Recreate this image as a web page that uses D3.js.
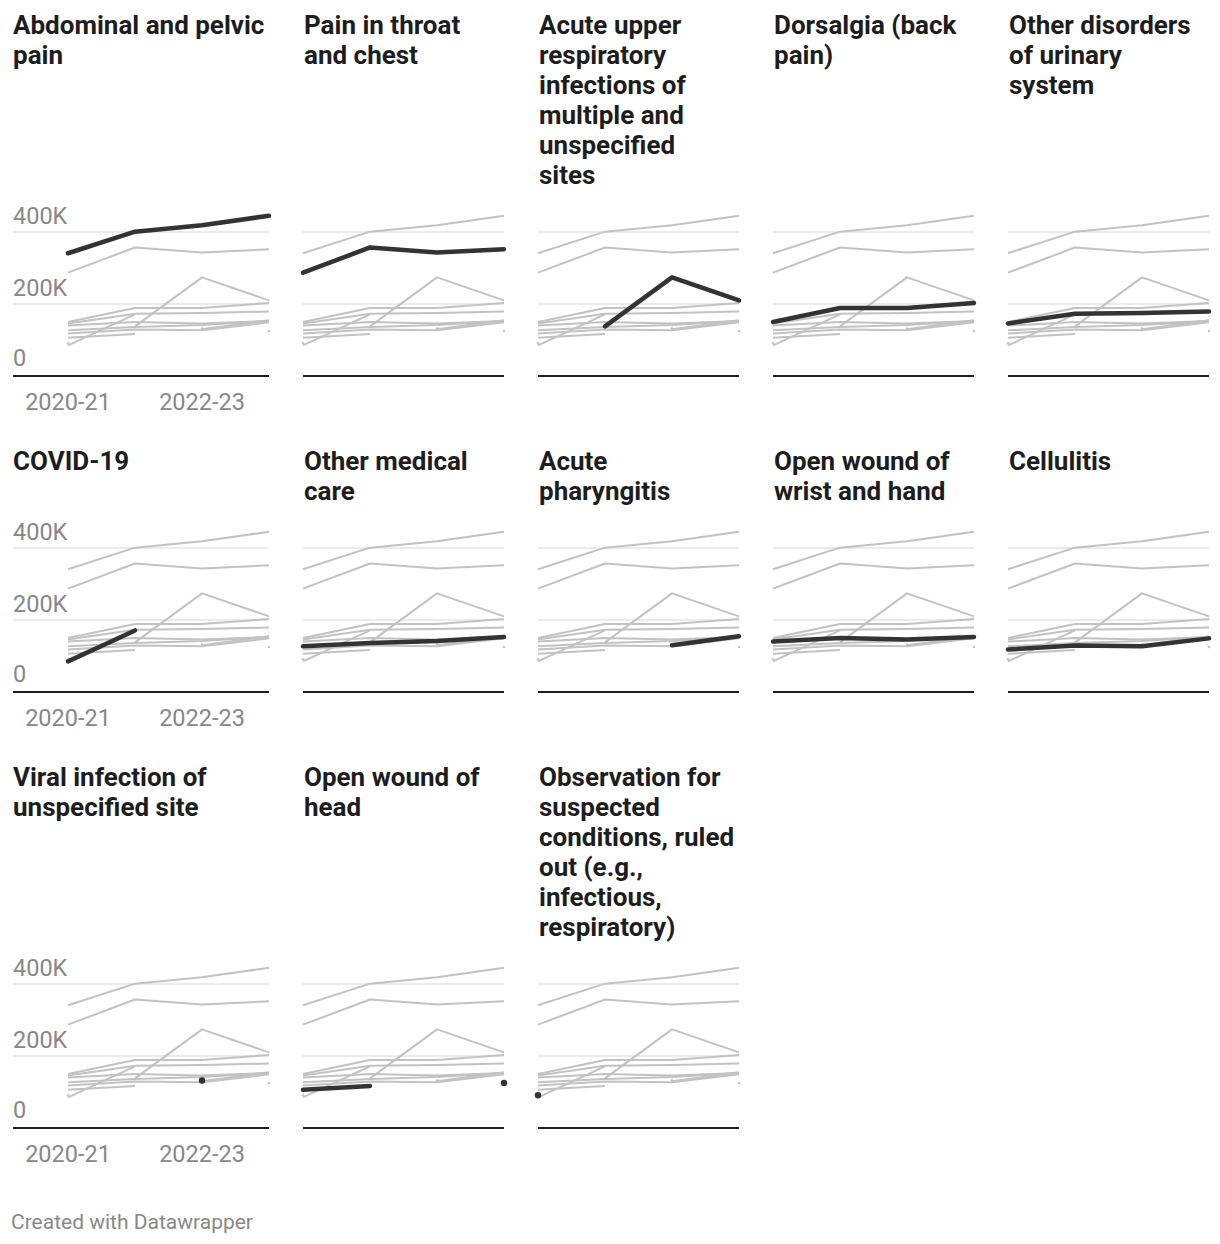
<!DOCTYPE html>
<html><head><meta charset="utf-8">
<script src="https://cdn.jsdelivr.net/npm/d3@7"></script>
<style>
body{margin:0;background:#fff;}
svg{display:block;font-family:Roboto,"Noto Sans",sans-serif;}
</style>
</head><body>
<svg id="c" width="1220" height="1244"></svg>
<script>
// ---- DATA (values in thousands of visits) ----
const years = ["2020-21", "2021-22", "2022-23", "2023-24"];
const xTickLabels = ["2020-21", "2022-23"];
const yTickValues = [0, 200, 400];
const yTickLabels = ["0", "200K", "400K"];

const categories = [
  "Abdominal and pelvic pain",
  "Pain in throat and chest",
  "Acute upper respiratory infections of multiple and unspecified sites",
  "Dorsalgia (back pain)",
  "Other disorders of urinary system",
  "COVID-19",
  "Other medical care",
  "Acute pharyngitis",
  "Open wound of wrist and hand",
  "Cellulitis",
  "Viral infection of unspecified site",
  "Open wound of head",
  "Observation for suspected conditions, ruled out (e.g., infectious, respiratory)"
];
const titleLines = [
  ["Abdominal and pelvic", "pain"],
  ["Pain in throat", "and chest"],
  ["Acute upper", "respiratory", "infections of", "multiple and", "unspecified", "sites"],
  ["Dorsalgia (back", "pain)"],
  ["Other disorders", "of urinary", "system"],
  ["COVID-19"],
  ["Other medical", "care"],
  ["Acute", "pharyngitis"],
  ["Open wound of", "wrist and hand"],
  ["Cellulitis"],
  ["Viral infection of", "unspecified site"],
  ["Open wound of", "head"],
  ["Observation for", "suspected", "conditions, ruled", "out (e.g.,", "infectious,", "respiratory)"]
];

const abdominalPelvicPain   = [341, 401, 419, 445];
const painThroatChest       = [287, 357, 343, 352];
const acuteUpperRespiratory = [null, 138, 274, 210];
const dorsalgia             = [150, 189, 189, 203];
const urinaryDisorders      = [146, 173, 175, 179];
const covid19               = [85, 171, null, null];
const otherMedicalCare      = [127, 136, 142, 153];
const acutePharyngitis      = [null, null, 130, 155];
const openWoundWristHand    = [140, 150, 146, 153];
const cellulitis            = [118, 129, 127, 149];
const viralInfection        = [null, null, 132, null];
const openWoundHead         = [106, 117, null, 125];
const observationRuledOut   = [91, null, null, null];

const seriesValues = [
  abdominalPelvicPain, painThroatChest, acuteUpperRespiratory, dorsalgia,
  urinaryDisorders, covid19, otherMedicalCare, acutePharyngitis,
  openWoundWristHand, cellulitis, viralInfection, openWoundHead, observationRuledOut
];

// ---- LAYOUT ----
const svg = d3.select("#c");
const nCols = 5;
const colStep = 235, dataLeft0 = 68, panelW = 201, col0Left = 13;
const lineH = 30, titleToTop = 39, plotH = 162, baseToNextTitle = 85;
const titleSize = 26, axisSize = 23.5;

const x = d3.scalePoint().domain(years).range([0, panelW]);
const y = d3.scaleLinear().domain([0, 450]).range([plotH, 0]);

const line = d3.line()
  .defined(d => d.v != null)
  .x(d => x(d.year))
  .y(d => y(d.v));

const toPts = vals => years.map((yr, i) => ({year: yr, v: vals[i]}));
const isolated = vals => years.map((yr, i) => ({year: yr, v: vals[i], i}))
  .filter(d => d.v != null && (d.i === 0 || vals[d.i-1] == null) && (d.i === years.length-1 || vals[d.i+1] == null));

let T = 25;
const nRows = Math.ceil(categories.length / nCols);
for (let r = 0; r < nRows; r++) {
  const idx = d3.range(r*nCols, Math.min(r*nCols + nCols, categories.length));
  const n = d3.max(idx, i => titleLines[i].length);
  const top = T + lineH*(n-1) + titleToTop;
  idx.forEach((k, c) => {
    const gx = dataLeft0 + c*colStep;
    const leftExt = c === 0 ? col0Left - dataLeft0 : 0;
    // title
    const tx = c === 0 ? col0Left : gx + 1;
    const t = svg.append("text")
      .attr("x", tx).attr("y", T + 9)
      .attr("font-size", titleSize).attr("font-weight", 700).attr("fill", "#1d1d1d");
    titleLines[k].forEach((ln, li) => {
      t.append("tspan").attr("x", tx).attr("y", T + 9 + li*lineH).text(ln);
    });

    const g = svg.append("g").attr("transform", `translate(${gx},${top})`);
    // gridlines
    g.selectAll("line.grid").data(yTickValues.filter(v => v > 0)).join("line")
      .attr("x1", leftExt).attr("x2", panelW)
      .attr("y1", d => y(d)).attr("y2", d => y(d))
      .attr("stroke", "#e4e4e4").attr("stroke-width", 1.5);
    // axis labels (first column only)
    if (c === 0) {
      g.selectAll("text.yl").data(yTickValues).join("text")
        .attr("x", leftExt).attr("y", (d) => y(d) - (d === 0 ? 10.5 : 8.5))
        .attr("font-size", axisSize).attr("fill", "#888")
        .text((d, i) => yTickLabels[i]);
      g.selectAll("text.xl").data(xTickLabels).join("text")
        .attr("x", d => x(d)).attr("y", plotH + 33.5)
        .attr("text-anchor", "middle")
        .attr("font-size", axisSize).attr("fill", "#888")
        .text(d => d);
    }
    // gray background lines
    seriesValues.forEach((vals, si) => {
      if (si === k) return;
      g.append("path").attr("d", line(toPts(vals)))
        .attr("fill", "none").attr("stroke", "#c2c2c2").attr("stroke-width", 2)
        .attr("stroke-linejoin", "round");
      isolated(vals).forEach(d => {
        g.append("circle").attr("cx", x(d.year)).attr("cy", y(d.v)).attr("r", 1.3).attr("fill", "#c2c2c2");
      });
    });
    // highlighted series
    const hv = seriesValues[k];
    g.append("path").attr("d", line(toPts(hv)))
      .attr("fill", "none").attr("stroke", "#333").attr("stroke-width", 4.5)
      .attr("stroke-linecap", "round").attr("stroke-linejoin", "round");
    isolated(hv).forEach(d => {
      g.append("circle").attr("cx", x(d.year)).attr("cy", y(d.v)).attr("r", 3.2).attr("fill", "#333");
    });
    // baseline
    g.append("line").attr("x1", leftExt).attr("x2", panelW)
      .attr("y1", y(0)).attr("y2", y(0))
      .attr("stroke", "#1d1d1d").attr("stroke-width", 2);
  });
  T = top + plotH + baseToNextTitle;
}

svg.append("text").attr("x", 11).attr("y", 1228.5)
  .attr("font-size", 21).attr("fill", "#888").text("Created with Datawrapper");
</script>
</body></html>
